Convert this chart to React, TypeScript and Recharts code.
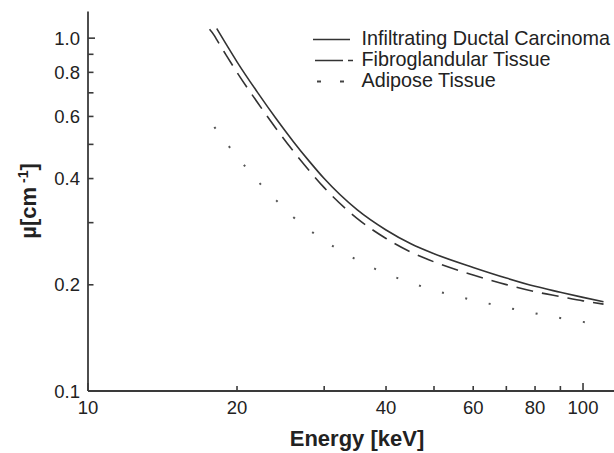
import React from 'react';
import { LineChart, Line, XAxis, YAxis, Legend } from 'recharts';

const energies = [17.6, 18, 18.2, 19, 20, 22, 24, 26, 28, 30, 35, 40, 45, 50, 60, 70, 80, 90, 100, 110];
const carcinoma = [null, null, 1.065, 0.963, 0.857, 0.702, 0.591, 0.509, 0.4475, 0.4, 0.326, 0.286, 0.261, 0.245, 0.224, 0.209, 0.198, 0.1905, 0.1842, 0.179];
const fibroglandular = [1.06, 1.017, 0.99, 0.897, 0.8, 0.657, 0.554, 0.478, 0.421, 0.377, 0.308, 0.2706, 0.2472, 0.2323, 0.2132, 0.2002, 0.1911, 0.1852, 0.1801, 0.1763];
const adipose = [null, 0.56, 0.5485, 0.506, 0.462, 0.394, 0.347, 0.311, 0.286, 0.267, 0.235, 0.215, 0.2025, 0.193, 0.181, 0.1725, 0.166, 0.161, 0.157, 0.1535];

const xTicks = [10, 20, 30, 40, 50, 60, 70, 80, 90, 100];
const xLabels = [10, 20, 40, 60, 80, 100];
const yTicks = [0.1, 0.2, 0.3, 0.4, 0.5, 0.6, 0.7, 0.8, 0.9, 1.0];
const yLabels = [0.1, 0.2, 0.4, 0.6, 0.8, 1.0];

const seriesNames = ['Infiltrating Ductal Carcinoma', 'Fibroglandular Tissue', 'Adipose Tissue'];

const data = energies.map((e, i) => ({
  energy: e,
  carcinoma: carcinoma[i],
  fibroglandular: fibroglandular[i],
  adipose: adipose[i],
}));

const FONT = '"Liberation Sans", Arial, Helvetica, sans-serif';
const AXIS = '#3a3a3a';
const INK = '#222';

const XTickBottom = (props: any) => {
  const { x, y, payload } = props;
  const v = payload.value;
  const len = v === 10 || v === 100 ? 8 : 5;
  return (
    <g>
      <line x1={x} x2={x} y1={y} y2={y - len} stroke={AXIS} strokeWidth={1.6} />
      {xLabels.includes(v) && (
        <text x={x} y={y + 23} textAnchor="middle" fontFamily={FONT} fontSize={18.5} fill={INK}>
          {v}
        </text>
      )}
    </g>
  );
};

const XTickTop = (props: any) => {
  const { x, y, payload } = props;
  const v = payload.value;
  const len = v === 10 || v === 100 ? 8 : 5;
  return <line x1={x} x2={x} y1={y} y2={y + len} stroke={AXIS} strokeWidth={1.6} />;
};

const YTick = (props: any) => {
  const { x, y, payload } = props;
  const v = payload.value;
  const len = Math.abs(v - 1) < 1e-9 || Math.abs(v - 0.1) < 1e-9 ? 7 : 5.5;
  const labeled = yLabels.some((l) => Math.abs(l - v) < 1e-9);
  return (
    <g>
      <line x1={x} x2={x + len} y1={y} y2={y} stroke={AXIS} strokeWidth={1.6} />
      {labeled && (
        <text x={x - 8} y={y} dy="0.36em" textAnchor="end" fontFamily={FONT} fontSize={18.5} fill={INK}>
          {v.toFixed(1)}
        </text>
      )}
    </g>
  );
};

const LegendBox = () => (
  <svg width={314} height={100} style={{ display: 'block' }}>
    <g fontFamily={FONT} fontSize={19.8} fill={INK}>
      <line x1={13} x2={50} y1={39.5} y2={39.5} stroke="#333" strokeWidth={1.6} />
      <text x={61.5} y={44.5}>{seriesNames[0]}</text>
      <line x1={15} x2={53} y1={60.5} y2={60.5} stroke="#333" strokeWidth={1.6} strokeDasharray="28 5 5 100" />
      <text x={61.5} y={65.5}>{seriesNames[1]}</text>
      <line x1={17} x2={45} y1={81.5} y2={81.5} stroke="#444" strokeWidth={1.8} strokeDasharray="4 19 4 100" />
      <text x={61.5} y={86.5}>{seriesNames[2]}</text>
    </g>
  </svg>
);

const XLabel = () => (
  <text x={357} y={446} textAnchor="middle" fontFamily={FONT} fontWeight="bold" fontSize={22} fill={INK}>
    Energy [keV]
  </text>
);

const YLabel = () => (
  <text
    x={36}
    y={201}
    textAnchor="middle"
    transform="rotate(-90, 36, 201)"
    fontFamily={FONT}
    fontWeight="bold"
    fontSize={22}
    fill={INK}
  >
    µ[cm
    <tspan dx={4} dy={-8} fontSize={14}>-1</tspan>
    <tspan dy={8}>]</tspan>
  </text>
);

export default function App() {
  return (
    <div style={{ position: 'absolute', left: 0, top: 0, background: '#fff' }}>
      <LineChart width={614} height={453} data={data} margin={{ top: 11.5, right: 0, bottom: 0, left: 0 }}>
        <XAxis
          xAxisId="b"
          dataKey="energy"
          type="number"
          scale="log"
          domain={[10, 115.5]}
          allowDataOverflow
          ticks={xTicks}
          interval={0}
          tickSize={0}
          tickMargin={0}
          height={62}
          stroke={AXIS}
          axisLine={{ stroke: AXIS, strokeWidth: 1.8 }}
          tickLine={false}
          tick={<XTickBottom />}
          label={{ content: <XLabel /> }}
        />
        <XAxis
          xAxisId="t"
          orientation="top"
          dataKey="energy"
          type="number"
          scale="log"
          domain={[10, 115.5]}
          allowDataOverflow
          ticks={xTicks}
          interval={0}
          tickSize={0}
          tickMargin={0}
          height={0}
          axisLine={{ stroke: AXIS, strokeWidth: 1.8 }}
          tickLine={false}
          tick={<XTickTop />}
        />
        <YAxis
          type="number"
          scale="log"
          domain={[0.1, 1.19]}
          allowDataOverflow
          ticks={yTicks}
          interval={0}
          tickSize={0}
          tickMargin={0}
          width={88}
          axisLine={{ stroke: AXIS, strokeWidth: 1.8 }}
          tickLine={false}
          tick={<YTick />}
          label={{ content: <YLabel /> }}
        />
        <Legend
          content={<LegendBox />}
          layout="vertical"
          align="center"
          verticalAlign="middle"
          wrapperStyle={{ position: 'absolute', left: 300, top: 0, width: 314, height: 100 }}
        />
        <Line
          xAxisId="b"
          dataKey="carcinoma"
          name={seriesNames[0]}
          type="monotone"
          stroke="#333"
          strokeWidth={1.6}
          dot={false}
          connectNulls
          isAnimationActive={false}
        />
        <Line
          xAxisId="b"
          dataKey="fibroglandular"
          name={seriesNames[1]}
          type="monotone"
          stroke="#333"
          strokeWidth={1.6}
          strokeDasharray="17 9"
          dot={false}
          connectNulls
          isAnimationActive={false}
        />
        <Line
          xAxisId="b"
          dataKey="adipose"
          name={seriesNames[2]}
          type="monotone"
          stroke="#555"
          strokeWidth={2}
          strokeDasharray="2 22"
          dot={false}
          connectNulls
          isAnimationActive={false}
        />
      </LineChart>
    </div>
  );
}
